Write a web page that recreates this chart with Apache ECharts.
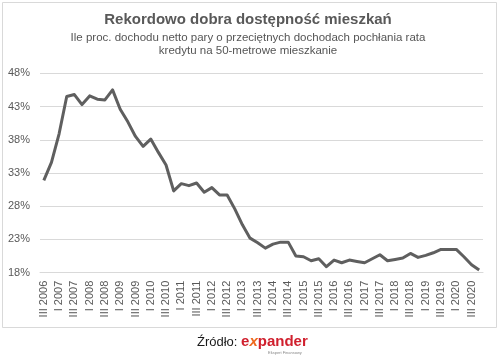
<!DOCTYPE html>
<html><head><meta charset="utf-8">
<script src="https://cdn.jsdelivr.net/npm/echarts@6/dist/echarts.min.js"></script>
<style>html,body{margin:0;padding:0;background:#fff}#c{width:498px;height:362px}</style>
</head><body><div id="c"></div>
<script>
const categories = [
  'III 2006','IV 2006',
  'I 2007','II 2007','III 2007','IV 2007',
  'I 2008','II 2008','III 2008','IV 2008',
  'I 2009','II 2009','III 2009','IV 2009',
  'I 2010','II 2010','III 2010','IV 2010',
  'I 2011','II 2011','III 2011','IV 2011',
  'I 2012','II 2012','III 2012','IV 2012',
  'I 2013','II 2013','III 2013','IV 2013',
  'I 2014','II 2014','III 2014','IV 2014',
  'I 2015','II 2015','III 2015','IV 2015',
  'I 2016','II 2016','III 2016','IV 2016',
  'I 2017','II 2017','III 2017','IV 2017',
  'I 2018','II 2018','III 2018','IV 2018',
  'I 2019','II 2019','III 2019','IV 2019',
  'I 2020','II 2020','III 2020','IV 2020'
];
const values = [
  31.9, 34.6, 38.9, 44.5, 44.8, 43.3, 44.6, 44.1, 44.0, 45.5,
  42.6, 40.7, 38.5, 37.0, 38.1, 36.1, 34.2, 30.3, 31.4, 31.1,
  31.5, 30.1, 30.8, 29.7, 29.7, 27.6, 25.2, 23.2, 22.5, 21.7,
  22.3, 22.6, 22.6, 20.5, 20.4, 19.8, 20.1, 18.9, 19.9, 19.5,
  19.9, 19.7, 19.5, 20.1, 20.7, 19.8, 20.0, 20.2, 20.9, 20.3,
  20.6, 21.0, 21.5, 21.5, 21.5, 20.4, 19.2, 18.4
];
const yTicks = [18, 23, 28, 33, 38, 43, 48];

const FONT = "'Liberation Sans', Arial, sans-serif";
const chart = echarts.init(document.getElementById('c'), null, {renderer: 'canvas'});
chart.setOption({
  animation: false,
  backgroundColor: '#ffffff',
  grid: {left: 40, right: 15, top: 73.3, bottom: 89.3},
  xAxis: {
    type: 'category',
    data: categories,
    boundaryGap: true,
    axisLine: {show: true, lineStyle: {color: '#d9d9d9', width: 1}},
    axisTick: {show: false},
    axisLabel: {
      interval: 1, rotate: 90, margin: 8,
      fontFamily: FONT, fontSize: 11, color: '#595959'
    }
  },
  yAxis: {
    type: 'value',
    min: 18, max: 48,
    axisLine: {show: false},
    axisTick: {show: false, customValues: yTicks},
    splitLine: {show: true, lineStyle: {color: '#d9d9d9', width: 1}},
    axisLabel: {
      customValues: yTicks,
      formatter: v => v + '%',
      margin: 10,
      fontFamily: FONT, fontSize: 11, color: '#595959'
    }
  },
  series: [{
    type: 'line',
    data: values,
    showSymbol: false,
    symbol: 'none',
    lineStyle: {color: '#5f5f5f', width: 3, join: 'round'}
  }],
  graphic: [
    {
      type: 'rect', z: -1,
      shape: {x: 2.5, y: 2.5, width: 494, height: 325},
      style: {fill: 'none', stroke: '#d9d9d9', lineWidth: 1}
    },
    {
      type: 'text', x: 248, y: 20,
      style: {
        text: 'Rekordowo dobra dostępność mieszkań',
        fontFamily: FONT, fontSize: 15, fontWeight: 'bold', fill: '#595959',
        align: 'center', verticalAlign: 'middle'
      }
    },
    {
      type: 'text', x: 248, y: 38,
      style: {
        text: 'Ile proc. dochodu netto pary o przeciętnych dochodach pochłania rata',
        fontFamily: FONT, fontSize: 11.5, fill: '#555555',
        align: 'center', verticalAlign: 'middle'
      }
    },
    {
      type: 'text', x: 248, y: 51,
      style: {
        text: 'kredytu na 50-metrowe mieszkanie',
        fontFamily: FONT, fontSize: 11.5, fill: '#555555',
        align: 'center', verticalAlign: 'middle'
      }
    },
    {
      type: 'text', x: 197, y: 342,
      style: {
        text: '{a|Źródło: }{e|e}{x|x}{e|pander}',
        verticalAlign: 'middle',
        rich: {
          a: {fontFamily: FONT, fontSize: 13, fill: '#1a1a1a'},
          e: {fontFamily: FONT, fontSize: 15, fontWeight: 'bold', fill: '#d0202e'},
          x: {fontFamily: FONT, fontSize: 15, fontWeight: 'bold', fontStyle: 'italic', fill: '#ee6a1f'}
        }
      }
    },
    {
      type: 'text', x: 268, y: 351,
      style: {text: 'Ekspert Finansowy', fontFamily: FONT, fontSize: 4, fill: '#888888'}
    }
  ]
});
</script>
</body></html>
